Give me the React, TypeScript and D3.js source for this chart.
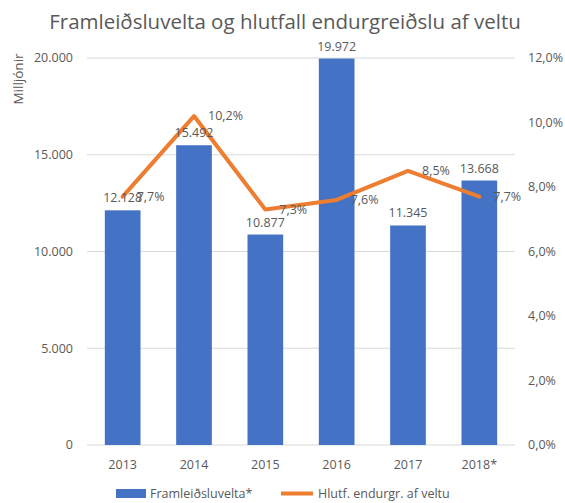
import React from "react";
import * as d3 from "d3";

const years = ["2013", "2014", "2015", "2016", "2017", "2018*"];
const turnover = [12128, 15492, 10877, 19972, 11345, 13668];
const ratio = [7.7, 10.2, 7.3, 7.6, 8.5, 7.7];
const leftTicks = [0, 5000, 10000, 15000, 20000];
const rightTicks = [0, 2, 4, 6, 8, 10, 12];

const W = 565, H = 503;
const M = { left: 87, right: 515, top: 58, bottom: 445 };
const FONT = "'Open Sans', 'Liberation Sans', sans-serif";
const GREY = "#595959";

const fmtThousand = (v: number) => d3.format(",")(v).replace(/,/g, ".");
const fmtPct = (v: number) => v.toFixed(1).replace(".", ",") + "%";

export default function App() {
  const x = d3.scaleBand<string>().domain(years).range([M.left, M.right]).paddingInner(0.5).paddingOuter(0.25);
  const y = d3.scaleLinear().domain([0, 20000]).range([M.bottom, M.top]);
  const y2 = d3.scaleLinear().domain([0, 12]).range([M.bottom, M.top]);
  const cx = (d: string) => (x(d) ?? 0) + x.bandwidth() / 2;
  const line = d3.line<number>().x((_, i) => cx(years[i])).y((d) => y2(d));

  return (
    <svg width={W} height={H} style={{ position: "absolute", left: 0, top: 0, background: "#fff" }} fontFamily={FONT}>
      <text x={285} y={29} textAnchor="middle" fontSize={20.5} fill={GREY}>
        Framleiðsluvelta og hlutfall endurgreiðslu af veltu
      </text>
      <text transform="translate(23,79) rotate(-90)" textAnchor="middle" fontSize={13.5} fill={GREY}>
        Milljónir
      </text>
      {leftTicks.map((t) => (
        <g key={t}>
          <line x1={M.left} x2={M.right} y1={y(t)} y2={y(t)} stroke="#d9d9d9" strokeWidth={1} />
          <text x={73} y={y(t)} dy="0.35em" textAnchor="end" fontSize={12.5} fill={GREY}>
            {fmtThousand(t)}
          </text>
        </g>
      ))}
      {rightTicks.map((t) => (
        <text key={t} x={528} y={y2(t)} dy="0.35em" textAnchor="start" fontSize={12.5} fill={GREY}>
          {fmtPct(t)}
        </text>
      ))}
      {years.map((yr, i) => (
        <g key={yr}>
          <rect x={x(yr)} y={y(turnover[i])} width={x.bandwidth()} height={M.bottom - y(turnover[i])} fill="#4472C4" />
          <text x={cx(yr)} y={465} dy="0.35em" textAnchor="middle" fontSize={12.5} fill={GREY}>
            {yr}
          </text>
        </g>
      ))}
      <path d={line(ratio) ?? ""} fill="none" stroke="#ED7D31" strokeWidth={4} strokeLinejoin="round" strokeLinecap="round" />
      {years.map((yr, i) => (
        <text key={"b" + yr} x={cx(yr)} y={y(turnover[i]) - 8} textAnchor="middle" fontSize={12.5} fill={GREY}>
          {fmtThousand(turnover[i])}
        </text>
      ))}
      {years.map((yr, i) => (
        <text key={"p" + yr} x={cx(yr) + 14} y={y2(ratio[i])} dy="0.35em" textAnchor="start" fontSize={12.5} fill={GREY}>
          {fmtPct(ratio[i])}
        </text>
      ))}
      <rect x={116} y={489} width={30} height={9} fill="#4472C4" />
      <text x={150} y={493.5} dy="0.35em" fontSize={12.5} fill={GREY}>Framleiðsluvelta*</text>
      <line x1={281} x2={313} y1={493.5} y2={493.5} stroke="#ED7D31" strokeWidth={4} />
      <text x={318} y={493.5} dy="0.35em" fontSize={12.5} fill={GREY}>Hlutf. endurgr. af veltu</text>
    </svg>
  );
}
